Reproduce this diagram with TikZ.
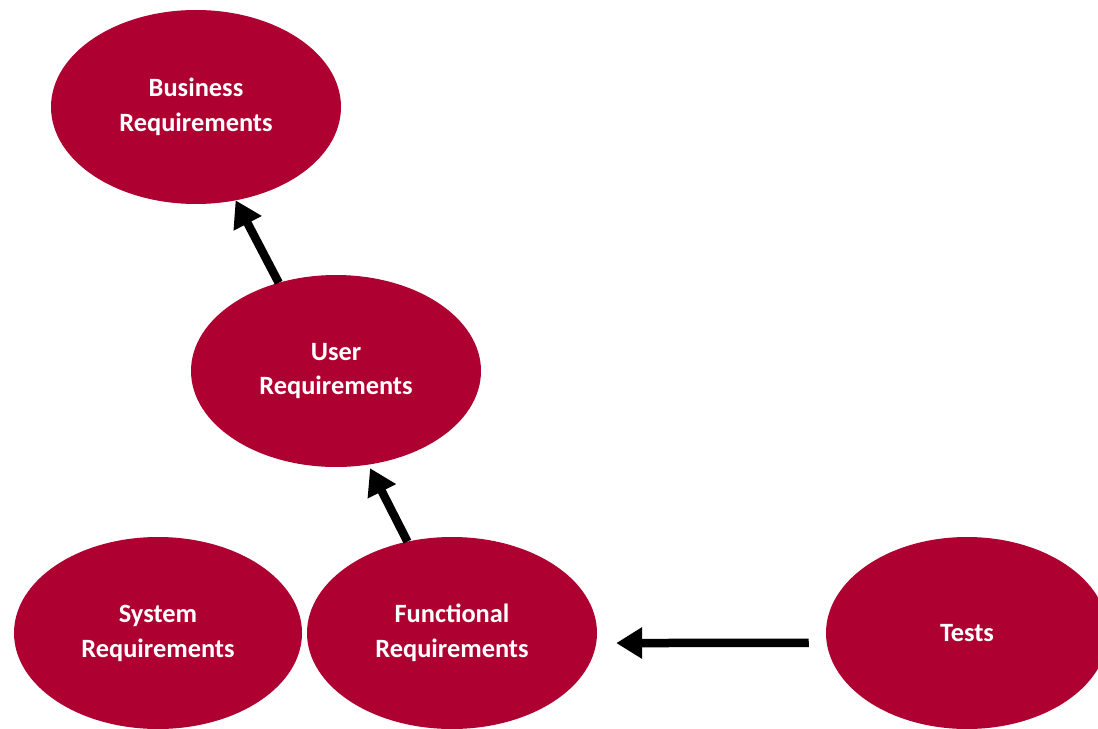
\documentclass[tikz,border=0pt]{standalone}
\usepackage{fontspec}
\setmainfont{Carlito}
\usetikzlibrary{shapes.geometric,arrows.meta}
\definecolor{reqred}{RGB}{174,0,49}
\tikzset{
  req/.style={ellipse, fill=reqred, draw=none, inner sep=0pt, outer sep=0pt,
    text=white, align=center, font=\bfseries\fontsize{26.5}{35}\selectfont},
  link/.style={line width=8.5bp, -{Triangle[length=26bp,width=30bp]}}
}
\begin{document}
\begin{tikzpicture}[x=1bp,y=-1bp]
\useasboundingbox (0,0) rectangle (1098,729);
\node[req, minimum width=290bp, minimum height=194bp] (biz) at (196,107) {Business\\Requirements};
\node[req, minimum width=290bp, minimum height=192bp] (user) at (336,371) {User\\Requirements};
\node[req, minimum width=288bp, minimum height=192bp] (sys) at (158,633) {System\\Requirements};
\node[req, minimum width=290bp, minimum height=192bp] (func) at (452,633) {Functional\\Requirements};
\node[req, minimum width=282bp, minimum height=192bp] (tests) at (967,633) {Tests};
\draw[link] (user.123) -- (biz.-67);
\draw[link, shorten >=4bp] (func.116) -- (user.-71);
\draw[link, shorten <=18bp, shorten >=20bp] (tests.184) -- (func.356);
\end{tikzpicture}
\end{document}
